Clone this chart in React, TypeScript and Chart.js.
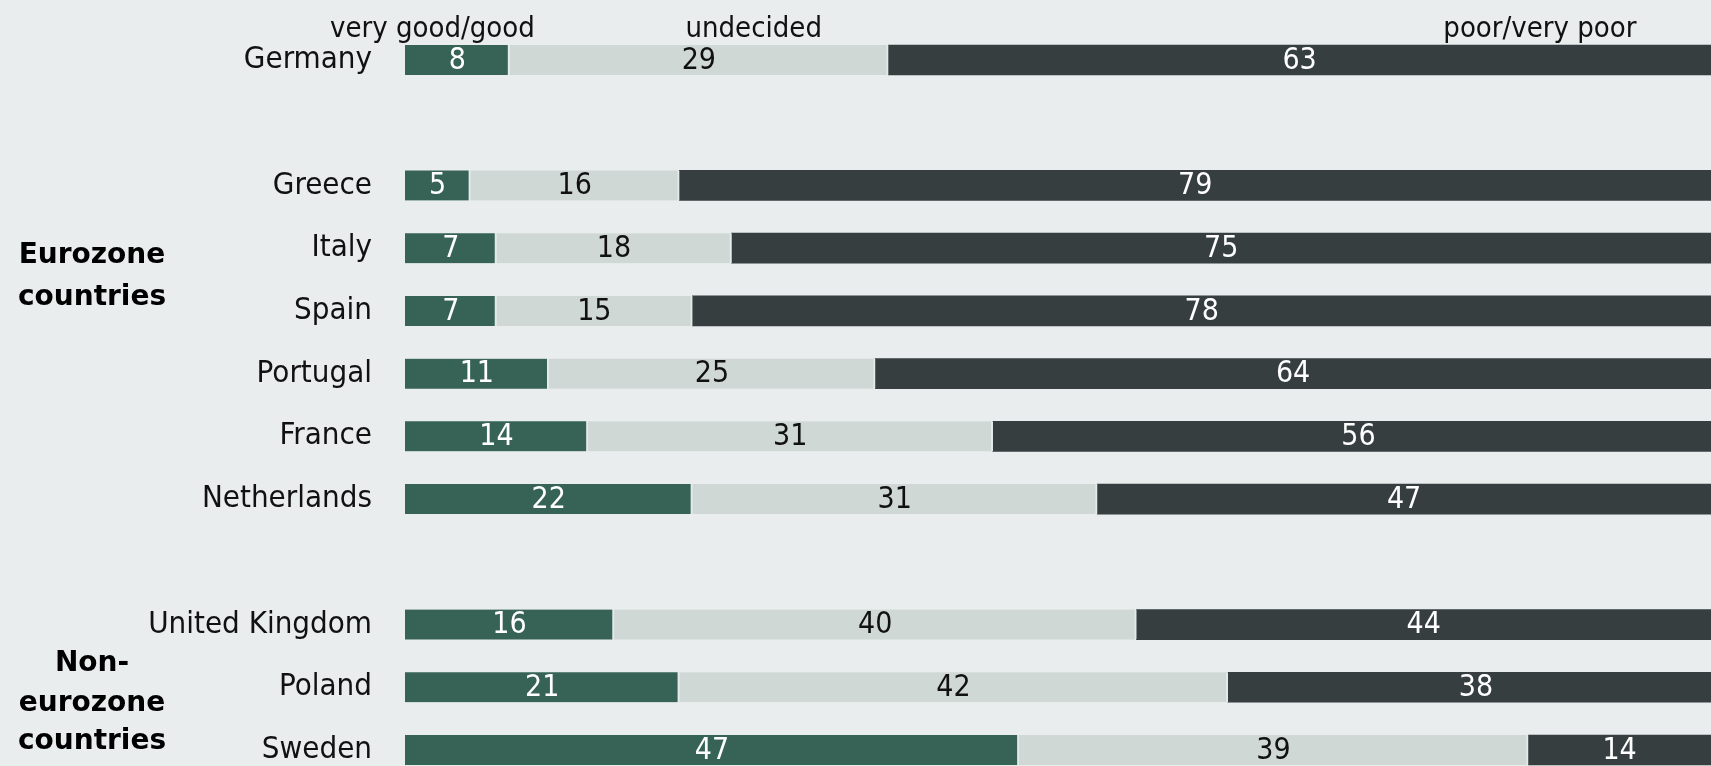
import React, { useEffect, useRef } from 'react';
import { Chart, registerables } from 'chart.js';

Chart.register(...registerables);

const countries = ['Germany', '', 'Greece', 'Italy', 'Spain', 'Portugal', 'France', 'Netherlands', '', 'United Kingdom', 'Poland', 'Sweden'];
const goodValues = [8, null, 5, 7, 7, 11, 14, 22, null, 16, 21, 47];
const undecidedValues = [29, null, 16, 18, 15, 25, 31, 31, null, 40, 42, 39];
const poorValues = [63, null, 79, 75, 78, 64, 56, 47, null, 44, 38, 14];
const seriesNames = ['very good/good', 'undecided', 'poor/very poor'];
const groupEurozone = ['Eurozone', 'countries'];
const groupNonEurozone = ['Non-', 'eurozone', 'countries'];

const BG = '#E9EDED';
const GREEN = '#366355';
const LIGHT = '#D0D8D6';
const DARK = '#363E40';
const FONT = "'DejaVu Sans Condensed', 'DejaVu Sans', sans-serif";

// header anchors (value units on x axis) and group label layout
const headerAnchors = [2.1, 26.7, 86.9];
const headerBaseline = 37;
const groupX = 92;
const eurozoneBaselines = [263, 305];
const nonEurozoneBaselines = [671, 711, 749];

const overlayPlugin = {
  id: 'overlay',
  afterDatasetsDraw(chart: any) {
    const ctx = chart.ctx;
    const xs = chart.scales.x;
    ctx.save();
    // value labels
    ctx.font = `30px ${FONT}`;
    ctx.textAlign = 'center';
    ctx.textBaseline = 'middle';
    chart.data.datasets.forEach((ds: any, di: number) => {
      const meta = chart.getDatasetMeta(di);
      meta.data.forEach((el: any, i: number) => {
        const v = ds.data[i];
        if (v === null || v === undefined) return;
        const cx = (el.x + el.base) / 2;
        ctx.fillStyle = di === 1 ? '#111111' : '#FFFFFF';
        ctx.fillText(String(v), cx, el.y + 1);
      });
    });
    // header labels
    ctx.font = `29px ${FONT}`;
    ctx.fillStyle = '#111111';
    ctx.textBaseline = 'alphabetic';
    seriesNames.forEach((name, i) => {
      ctx.fillText(name, xs.getPixelForValue(headerAnchors[i]), headerBaseline);
    });
    // group labels
    ctx.font = `bold 28px 'DejaVu Sans', sans-serif`;
    ctx.fillStyle = '#000000';
    groupEurozone.forEach((t, i) => ctx.fillText(t, groupX, eurozoneBaselines[i]));
    groupNonEurozone.forEach((t, i) => ctx.fillText(t, groupX, nonEurozoneBaselines[i]));
    ctx.restore();
  },
};

export default function App() {
  const ref = useRef<HTMLCanvasElement>(null);
  useEffect(() => {
    if (!ref.current) return;
    const mk = (label: string, data: (number | null)[], color: string, sep: number) => ({
      label,
      data,
      backgroundColor: color,
      borderColor: '#E4EAEA',
      borderWidth: { top: 0, bottom: 0, left: 0, right: sep },
      borderSkipped: false,
      barThickness: 30,
      clip: false,
    });
    const chart = new Chart(ref.current, {
      type: 'bar',
      data: {
        labels: countries,
        datasets: [
          mk(seriesNames[0], goodValues, GREEN, 2),
          mk(seriesNames[1], undecidedValues, LIGHT, 2),
          mk(seriesNames[2], poorValues, DARK, 0),
        ] as any,
      },
      options: {
        indexAxis: 'y',
        responsive: false,
        animation: false,
        devicePixelRatio: 1,
        layout: { padding: { top: 60, bottom: 16, left: 0, right: 0 } },
        plugins: {
          legend: { display: false },
          tooltip: { enabled: false },
        },
        scales: {
          x: {
            type: 'linear',
            stacked: true,
            min: 0,
            max: 100,
            display: false,
          },
          y: {
            type: 'category',
            stacked: true,
            offset: false,
            grid: { display: false, drawTicks: false },
            border: { display: false },
            ticks: {
              autoSkip: false,
              padding: 33,
              color: '#111111',
              font: { family: FONT, size: 31 },
            },
            afterFit: (s: any) => {
              s.width = 405;
              s.paddingTop = 0;
              s.paddingBottom = 0;
            },
          },
        },
      } as any,
      plugins: [overlayPlugin],
    });
    return () => chart.destroy();
  }, []);
  return (
    <div style={{ position: 'fixed', left: 0, top: 0, width: 1711, height: 766, background: BG, overflow: 'hidden' }}>
      <canvas ref={ref} width={1711} height={766} style={{ display: 'block' }} />
    </div>
  );
}
